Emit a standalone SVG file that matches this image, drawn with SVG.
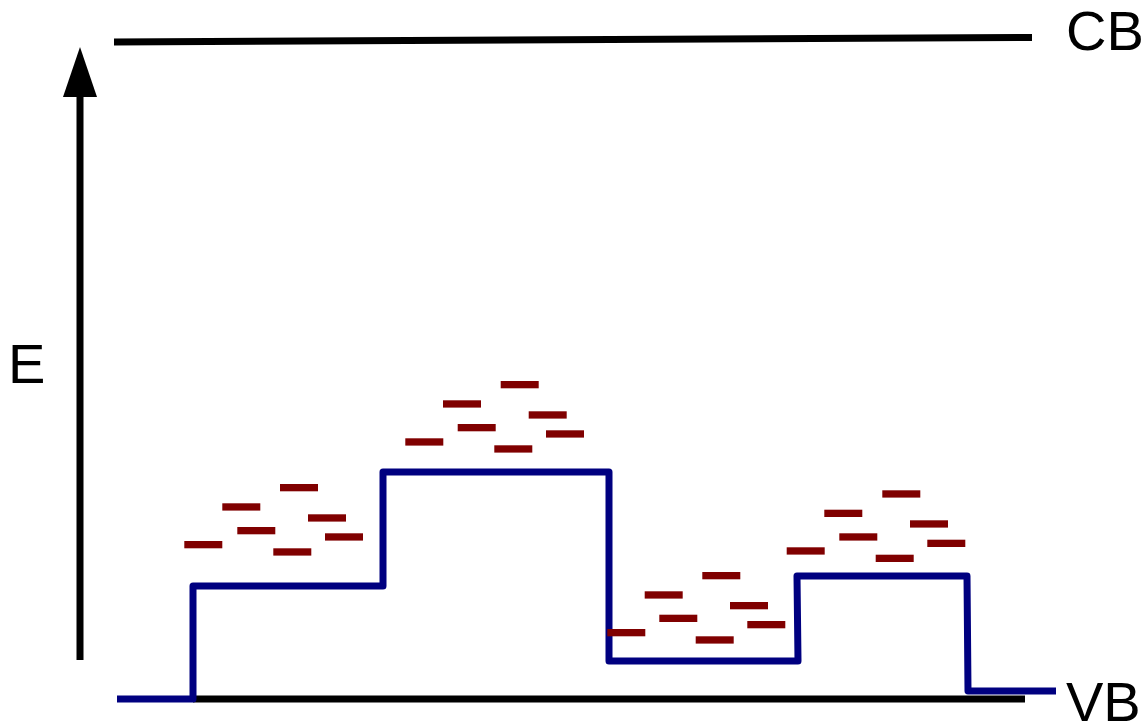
<svg xmlns="http://www.w3.org/2000/svg" width="1147" height="724" viewBox="0 0 1147 724">
  <style>
    .lbl { font-family: "Liberation Sans", Arial, sans-serif; font-size: 56px; fill: #000; }
    .band { stroke: #000; stroke-width: 7; fill: none; }
    .edge { stroke: #000080; stroke-width: 7; fill: none; stroke-linejoin: round; }
    .st rect { fill: #800000; }
  </style>
  <defs>
    <marker id="ah" markerUnits="userSpaceOnUse" markerWidth="52" markerHeight="36" refX="1" refY="17" orient="auto">
      <path d="M0,0 L50,17 L0,34 Z" fill="#000"/>
    </marker>
  </defs>

  <g id="axis">
    <line x1="80" y1="660" x2="80" y2="96" stroke="#000" stroke-width="7" marker-end="url(#ah)"/>
    <text class="lbl" x="8" y="383">E</text>
  </g>

  <g id="bands">
    <line class="band" x1="114" y1="42" x2="1032" y2="37.5"/>
    <text class="lbl" x="1066" y="50">CB</text>
    <line class="band" x1="193" y1="699" x2="1025" y2="699"/>
    <text class="lbl" x="1066" y="721">VB</text>
  </g>

  <g id="edge">
    <path class="edge" d="M117,699 L193,699 L193,586 L383,586 L383,472 L609,472 L609,661 L798,661 L797,576 L967,576 L968,691 L1056,691"/>
  </g>

  <g id="states" class="st">
    <rect x="184.3" y="541" width="38" height="7.3"/>
    <rect x="222.3" y="503.3" width="38" height="7.3"/>
    <rect x="237.3" y="527" width="38" height="7.3"/>
    <rect x="280" y="484" width="38" height="7.3"/>
    <rect x="273.3" y="548.3" width="38" height="7.3"/>
    <rect x="308" y="514.3" width="38" height="7.3"/>
    <rect x="325" y="533.3" width="38" height="7.3"/>

    <rect x="405.3" y="438.3" width="38" height="7.3"/>
    <rect x="443" y="400.3" width="38" height="7.3"/>
    <rect x="457.7" y="424" width="38" height="7.3"/>
    <rect x="500.7" y="381" width="38" height="7.3"/>
    <rect x="494.3" y="445.3" width="38" height="7.3"/>
    <rect x="528.7" y="411.3" width="38" height="7.3"/>
    <rect x="546" y="430.3" width="38" height="7.3"/>

    <rect x="607.3" y="629" width="38" height="7.3"/>
    <rect x="644.7" y="591.3" width="38" height="7.3"/>
    <rect x="659.3" y="614.7" width="38" height="7.3"/>
    <rect x="702.3" y="572" width="38" height="7.3"/>
    <rect x="695.7" y="636.3" width="38" height="7.3"/>
    <rect x="730" y="602" width="38" height="7.3"/>
    <rect x="747.3" y="621" width="38" height="7.3"/>

    <rect x="786.7" y="547.3" width="38" height="7.3"/>
    <rect x="824.3" y="509.7" width="38" height="7.3"/>
    <rect x="839.3" y="533.3" width="38" height="7.3"/>
    <rect x="882.3" y="490.3" width="38" height="7.3"/>
    <rect x="875.7" y="554.7" width="38" height="7.3"/>
    <rect x="910" y="520.3" width="38" height="7.3"/>
    <rect x="927.3" y="539.7" width="38" height="7.3"/>
  </g>
</svg>
